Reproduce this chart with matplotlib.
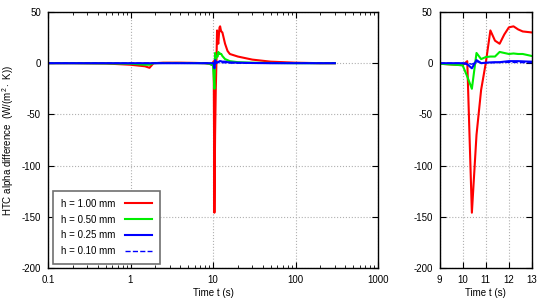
import matplotlib
matplotlib.use("Agg")
import matplotlib.pyplot as plt
from matplotlib.ticker import FixedLocator, FuncFormatter, LogLocator, NullFormatter

plt.rcParams['font.family'] = ['Liberation Sans', 'DejaVu Sans']
plt.rcParams['mathtext.fontset'] = 'custom'
plt.rcParams['mathtext.rm'] = 'Liberation Sans'
plt.rcParams['mathtext.it'] = 'Liberation Sans'
plt.rcParams['axes.unicode_minus'] = False

# ---- data ----
time_s = [0.1, 0.2, 0.5, 1.0, 1.5, 1.7, 1.9, 2.5, 4, 6, 8, 9, 10, 10.2, 10.4, 10.6,
          10.8, 11.0, 11.2, 11.4, 11.6, 11.8, 12.0, 12.2, 12.4, 12.6, 12.8, 13.0,
          14, 15, 16, 20, 30, 50, 100, 200, 300]
h_100 = [0, 0, -0.3, -1.5, -3, -4.5, 0, 0.5, 0.5, 0.3, 0, -0.5, -2, 2, -146, -70,
         -26, 0, 32, 22, 19, 28, 35, 36, 33, 31, 30.5, 30,
         19, 12, 9, 6.5, 3.5, 1.5, 0.5, 0, 0]
h_050 = [0, 0, -0.2, -0.5, -1.5, -1.5, 0, 0.2, 0.2, 0.1, 0, -0.5, -2, -13, -25, 10,
         4, 6, 6.5, 6.5, 11, 10, 9, 9.5, 9, 9, 8, 7,
         4, 3, 2, 1, 0.5, 0.2, 0, 0, 0]
h_025 = [0, 0, 0, 0, 0, 0, 0, 0, 0, 0, 0, 0, 0, -1, -5, 3,
         0, 0.5, 0.8, 1, 1, 1.5, 2, 2, 2, 1.8, 1.6, 1.5,
         1.5, 1, 0.8, 0.5, 0.2, 0, 0, 0, 0]
h_010 = [0, 0, 0, 0, 0, 0, 0, 0, 0, 0, 0, 0, 0, 0, -1, 1.5,
         0.5, 0.5, 0.5, 0.6, 0.7, 0.8, 0.8, 0.8, 0.7, 0.6, 0.5, 0.5,
         0.4, 0.3, 0.2, 0.1, 0, 0, 0, 0, 0]
labels = ["h = 1.00 mm", "h = 0.50 mm", "h = 0.25 mm", "h = 0.10 mm"]
series = [h_100, h_050, h_025, h_010]
colors = ["#ff0000", "#00ee00", "#0000ff", "#0000ff"]
styles = ["-", "-", "-", "--"]
widths = [1.5, 1.5, 1.5, 1.0]

y_ticks = [50, 0, -50, -100, -150, -200]
x_ticks_left = [0.1, 1, 10, 100, 1000]
x_ticks_right = [9, 10, 11, 12, 13]

fig = plt.figure(figsize=(5.5, 3.0), dpi=100)
axL = fig.add_axes([48/550, 32/300, 330/550, 256/300])
axR = fig.add_axes([439.5/550, 32/300, 92.5/550, 256/300])

for ax in (axL, axR):
    for s, c, ls, lw, lab in zip(series, colors, styles, widths, labels):
        ax.plot(time_s, s, color=c, ls=ls, lw=lw, label=lab)
    ax.set_ylim(-200, 50)
    ax.set_yticks(y_ticks)
    ax.grid(True, which='major', color='#b0b0b0', linestyle=':', linewidth=0.8)
    ax.tick_params(which='both', direction='in', top=True, right=True,
                   labelsize=7, pad=5, colors='black')
    ax.tick_params(which='major', length=4, width=0.8)
    ax.tick_params(which='minor', length=2, width=0.6)
    for sp in ax.spines.values():
        sp.set_linewidth(1.0)
    ax.set_xlabel("Time t (s)", fontsize=7, labelpad=2)

axL.set_xscale('log')
axL.set_xlim(0.1, 1000)
axL.xaxis.set_major_locator(FixedLocator(x_ticks_left))
axL.xaxis.set_major_formatter(FuncFormatter(lambda v, p: "%g" % v))
axL.xaxis.set_minor_locator(LogLocator(base=10, subs=range(2, 10)))
axL.xaxis.set_minor_formatter(NullFormatter())
axL.set_ylabel(r"HTC alpha difference  (W/(m$^2\cdot$ K))", fontsize=7, labelpad=4)

axR.set_xlim(9, 13)
axR.set_xticks(x_ticks_right)

leg = axL.legend(loc='lower left', bbox_to_anchor=(5/330, 4/256), borderaxespad=0,
                 fontsize=7, markerfirst=False, fancybox=False, framealpha=1,
                 edgecolor='#707070', handlelength=2.8, borderpad=0.8,
                 labelspacing=0.6, handletextpad=1.0)
leg.get_frame().set_linewidth(1.2)

fig.savefig("out.png", dpi=100)
